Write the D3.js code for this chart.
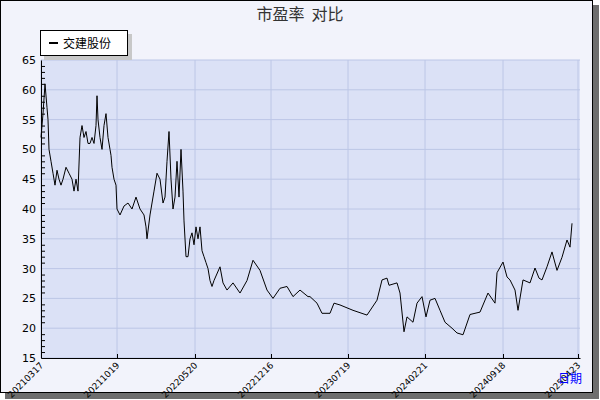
<!DOCTYPE html>
<html><head><meta charset="utf-8">
<script src="https://cdn.jsdelivr.net/npm/d3@7"></script>
<style>body{margin:0;background:#fff}svg{display:block}</style>
</head><body><svg id="c" width="600" height="400"></svg>
<script>
// sample position (trading-day slot) and P/E value
const t = [0,2,4,6,7,8,10,12,14,16,18,20,22,25,28,31,33,35,37,39,41,43,45,47,49,51,53,55,56,57,59,61,63,65,67,69,70,71,73,75,
  76,79,83,87,91,95,99,103,105,106,109,113,116,119,122,124,126,128,130,132,134,136,138,140,142,143,145,147,149,151,153,155,157,159,161,163,165,167,169,171,173,
  179,182,186,192,199,206,212,219,226,232,239,246,252,259,267,269,276,281,289,293,299,312,326,336,341,346,348,356,359,363,366,372,376,381,385,389,394,399,404,411,416,422,429,439,447,454,456,462,466,469,474,477,482,489,494,498,501,506,511,516,521,526,529,531,534,536,538,539];
const pe = [52,56,61,57,55,50,48,46,44,46.5,45,44,45,47,46,45,43,45,43,52,54,52,53,51,51,52,51,54,59,55,52,50,54,56,52,50,49,47,45,44,
  40,39,40.5,41,40,42,40,39,37,35,39,43,46,45,41,42,48,53,45,40,42,48,42,50,43,38,32,32,35,36,34,37,35,37,33,32,31,30,28,27,28,
  30.3,27.6,26.4,27.6,25.9,28,31.4,29.7,26.4,25,26.7,27,25.3,26.4,25.3,25.3,24.2,22.5,22.5,24.2,23.9,23,22.2,24.7,28.1,28.4,27.2,27.6,25.9,19.4,21.9,21,24.2,25.3,21.9,24.7,25,23,21,20,19.2,18.9,22.3,22.7,25.9,24.2,29.3,31.1,28.6,28.1,26.4,23,28.1,27.6,30.1,28.4,28.1,30.3,32.8,29.7,31.9,34.8,33.6,37.6];
const yTicks = [15,20,25,30,35,40,45,50,55,60,65];
const xTickPos = [0,76,154,230,307,384,462,537];
const xTickLabels = ['20210317','20211019','20220520','20221216','20230719','20240221','20240918','20250423'];

const svg = d3.select('#c');
const m = {left: 41, right: 580, top: 60, bottom: 358};
const x = d3.scaleLinear([0, 539], [m.left, m.right]);
const y = d3.scaleLinear([15, 65], [m.bottom, m.top]);

// frame with shadow
svg.append('rect').attr('x', 5).attr('y', 5).attr('width', 594).attr('height', 394).attr('fill', '#6e6e6e');
svg.append('rect').attr('x', 0.5).attr('y', 0.5).attr('width', 592).attr('height', 392)
  .attr('fill', '#f2f3fb').attr('stroke', '#000');

svg.append('rect').attr('x', m.left).attr('y', m.top).attr('width', m.right - m.left).attr('height', m.bottom - m.top)
  .attr('fill', '#dbe1f6');

// grid
svg.append('g').selectAll('line').data(yTicks).join('line')
  .attr('x1', m.left).attr('x2', m.right).attr('y1', d => y(d)).attr('y2', d => y(d))
  .attr('stroke', '#bcc6e6');
svg.append('g').selectAll('line').data(xTickPos).join('line')
  .attr('x1', d => x(d)).attr('x2', d => x(d)).attr('y1', m.top).attr('y2', m.bottom)
  .attr('stroke', '#bcc6e6');

// y axis with minor ticks pointing inward
const yAxis = d3.axisRight(y).tickValues(d3.range(15, 66, 1)).tickFormat('')
  .tickSize(0).tickSizeOuter(0);
const ya = svg.append('g').attr('transform', `translate(${m.left},0)`).call(yAxis);
ya.selectAll('.tick line').attr('x2', d => d % 5 === 0 ? 0 : 4).attr('stroke', '#000');
ya.select('.domain').attr('stroke', '#000');
svg.append('g').selectAll('text').data(yTicks).join('text')
  .attr('x', m.left - 5).attr('y', d => y(d) + 4).attr('text-anchor', 'end')
  .attr('font-family', 'DejaVu Sans, sans-serif').attr('font-size', 11).text(d => d);

// x axis
const xa = svg.append('g').attr('transform', `translate(0,${m.bottom})`)
  .call(d3.axisTop(x).tickValues(xTickPos).tickFormat('').tickSize(4).tickSizeOuter(0));
xa.selectAll('line,path').attr('stroke', '#000');
svg.append('g').selectAll('text').data(xTickPos).join('text')
  .attr('transform', d => `translate(${x(d) + 3},${m.bottom + 8}) rotate(-45)`)
  .attr('text-anchor', 'end').attr('font-family', 'DejaVu Sans, sans-serif').attr('font-size', 9)
  .text((d, i) => xTickLabels[i]);

// series
svg.append('path').datum(d3.zip(t, pe)).attr('fill', 'none').attr('stroke', '#000').attr('stroke-width', 1)
  .attr('d', d3.line().x(d => x(d[0])).y(d => y(d[1])));

// title
svg.append('text').attr('x', 300).attr('y', 20).attr('text-anchor', 'middle')
  .attr('font-family', 'Noto Sans CJK SC, sans-serif').attr('font-size', 16).attr('fill', '#333')
  .text('市盈率  对比').attr('xml:space', 'preserve').style('white-space', 'pre');

// legend
svg.append('rect').attr('x', 44).attr('y', 34).attr('width', 88).attr('height', 26).attr('fill', '#c8c8c8');
svg.append('rect').attr('x', 40.5).attr('y', 30.5).attr('width', 87).attr('height', 25).attr('fill', '#fff').attr('stroke', '#000');
svg.append('line').attr('x1', 49).attr('x2', 58).attr('y1', 43).attr('y2', 43).attr('stroke', '#000').attr('stroke-width', 2);
svg.append('text').attr('x', 63).attr('y', 48).attr('font-family', 'Noto Sans CJK SC, sans-serif').attr('font-size', 12).text('交建股份');

svg.append('text').attr('x', 558).attr('y', 383).attr('font-family', 'Noto Sans CJK SC, sans-serif')
  .attr('font-size', 12).attr('fill', '#0000ff').text('日期');
</script></body></html>
